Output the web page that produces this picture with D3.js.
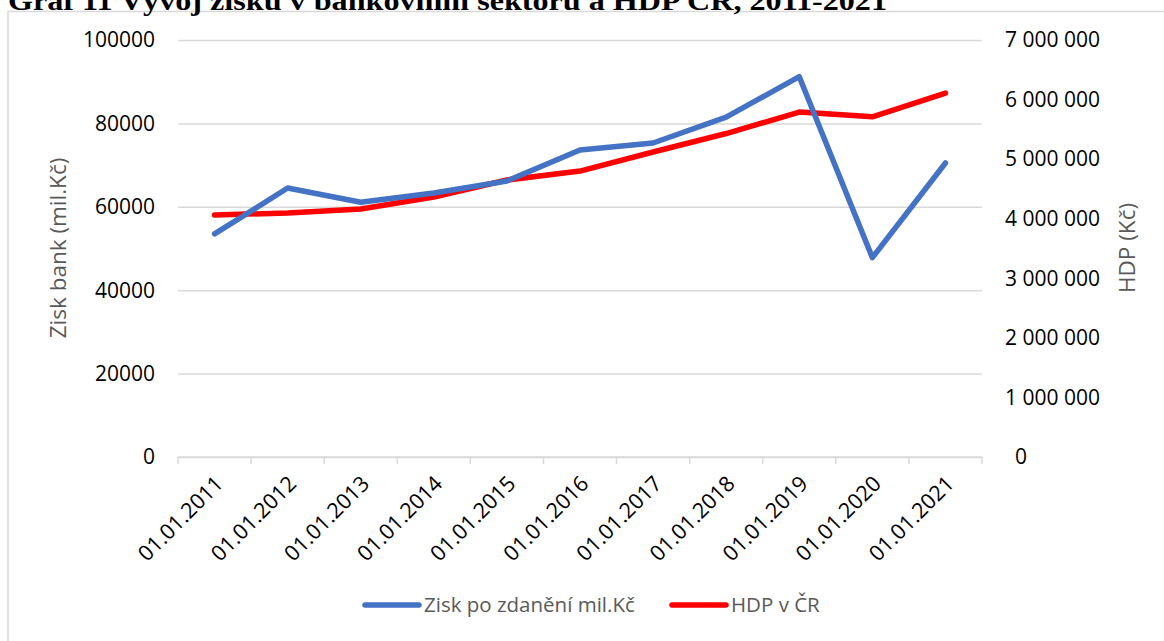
<!DOCTYPE html>
<meta charset="utf-8">
<head>
<style>
  body { margin: 0; background: #fff; }
  text { font-family: "Open Sans", sans-serif; }
</style>
<script src="https://d3js.org/d3.v7.min.js"></script>
</head>
<div id="chart"></div>
<script>
// data
var dates = ["01.01.2011", "01.01.2012", "01.01.2013", "01.01.2014", "01.01.2015", "01.01.2016",
             "01.01.2017", "01.01.2018", "01.01.2019", "01.01.2020", "01.01.2021"];
var zisk = [53500, 64500, 61100, 63300, 66200, 73600, 75300, 81500, 91200, 47800, 70500];
var hdp = [4062000, 4096000, 4163000, 4364000, 4650000, 4800000, 5120000, 5430000, 5790000, 5710000, 6110000];
var leftTicks = [0, 20000, 40000, 60000, 80000, 100000];
var rightTicks = [0, 1000000, 2000000, 3000000, 4000000, 5000000, 6000000, 7000000];

var W = 1164, H = 641;
var plot = {left: 178, right: 982, top: 40, bottom: 457};

var svg = d3.select("#chart").append("svg")
    .attr("width", W)
    .attr("height", H);

// chart frame (only top and left edges show)
svg.append("path")
    .attr("d", "M8," + H + "V11.5H" + W)
    .attr("fill", "none")
    .attr("stroke", "#d9d9d9")
    .attr("stroke-width", 1.5);

// title, cut off at the top like in the source
svg.append("text")
    .attr("x", 8)
    .attr("y", 10)
    .attr("textLength", 879)
    .attr("lengthAdjust", "spacingAndGlyphs")
    .style("font-family", "'Liberation Serif', serif")
    .style("font-weight", "bold")
    .style("font-size", "28px")
    .text("Graf 11 Vývoj zisku v bankovním sektoru a HDP ČR, 2011-2021");

var x = d3.scaleBand().domain(dates).range([plot.left, plot.right]);
var yL = d3.scaleLinear().domain([0, 100000]).range([plot.bottom, plot.top]);
var yR = d3.scaleLinear().domain([0, 7000000]).range([plot.bottom, plot.top]);
var cx = function(d) { return x(d) + x.bandwidth() / 2; };

// gridlines
svg.append("g")
    .attr("transform", "translate(" + plot.left + ",0)")
    .call(d3.axisLeft(yL).tickValues(leftTicks).tickSize(-(plot.right - plot.left)).tickFormat(""))
    .call(g => g.select(".domain").remove())
    .call(g => g.selectAll("line").attr("stroke", "#d9d9d9").attr("stroke-width", 1.5));

// left labels
svg.append("g")
    .selectAll("text")
    .data(leftTicks)
    .enter().append("text")
    .attr("x", 155)
    .attr("y", d => yL(d))
    .attr("dy", "0.35em")
    .attr("text-anchor", "end")
    .style("font-size", "21px")
    .attr("fill", "#000")
    .text(d => d);

// right labels, space as thousands separator
var fmt = d => d3.format(",")(d).replace(/,/g, " ");
svg.append("g")
    .selectAll("text")
    .data(rightTicks)
    .enter().append("text")
    .attr("x", d => d === 0 ? 1015 : 1005)
    .attr("y", d => yR(d))
    .attr("dy", "0.35em")
    .style("font-size", "21px")
    .attr("fill", "#000")
    .text(fmt);

// x axis
var xAxis = svg.append("g")
    .attr("transform", "translate(0," + plot.bottom + ")");
xAxis.append("line")
    .attr("x1", plot.left).attr("x2", plot.right)
    .attr("stroke", "#d9d9d9").attr("stroke-width", 1.5);
xAxis.selectAll(".tk")
    .data(dates.concat(["end"]))
    .enter().append("line")
    .attr("x1", (d, i) => i < dates.length ? x(d) : plot.right)
    .attr("x2", (d, i) => i < dates.length ? x(d) : plot.right)
    .attr("y1", 0).attr("y2", 7)
    .attr("stroke", "#d9d9d9").attr("stroke-width", 1.5);
xAxis.selectAll(".lbl")
    .data(dates)
    .enter().append("text")
    .attr("transform", d => "translate(" + (cx(d) + 10) + ",28) rotate(-45)")
    .attr("text-anchor", "end")
    .style("font-size", "21.5px")
    .attr("fill", "#000")
    .text(d => d);

// axis titles
svg.append("text")
    .attr("transform", "translate(58,248) rotate(-90)")
    .attr("text-anchor", "middle")
    .attr("dy", "0.35em")
    .style("font-size", "22.5px")
    .attr("fill", "#595959")
    .text("Zisk bank (mil.Kč)");

svg.append("text")
    .attr("transform", "translate(1127,248) rotate(-90)")
    .attr("text-anchor", "middle")
    .attr("dy", "0.35em")
    .style("font-size", "22.5px")
    .attr("fill", "#595959")
    .text("HDP (Kč)");

// lines
svg.append("path")
    .datum(hdp)
    .attr("fill", "none")
    .attr("stroke", "#ff0000")
    .attr("stroke-width", 5.5)
    .attr("stroke-linejoin", "round")
    .attr("stroke-linecap", "round")
    .attr("d", d3.line().x((d, i) => cx(dates[i])).y(d => yR(d)));

svg.append("path")
    .datum(zisk)
    .attr("fill", "none")
    .attr("stroke", "#4472c4")
    .attr("stroke-width", 5.5)
    .attr("stroke-linejoin", "round")
    .attr("stroke-linecap", "round")
    .attr("d", d3.line().x((d, i) => cx(dates[i])).y(d => yL(d)));

// legend
var legend = [
  {name: "Zisk po zdanění mil.Kč", color: "#4472c4", x: 365},
  {name: "HDP v ČR", color: "#ff0000", x: 672}
];
var lg = svg.selectAll(".legend")
    .data(legend)
    .enter().append("g")
    .attr("transform", d => "translate(" + d.x + ",605)");
lg.append("line")
    .attr("x1", 0).attr("x2", 54)
    .attr("stroke", d => d.color)
    .attr("stroke-width", 5.5)
    .attr("stroke-linecap", "round");
lg.append("text")
    .attr("x", 59)
    .attr("dy", "0.35em")
    .style("font-size", "20.5px")
    .attr("fill", "#595959")
    .text(d => d.name);
</script>
